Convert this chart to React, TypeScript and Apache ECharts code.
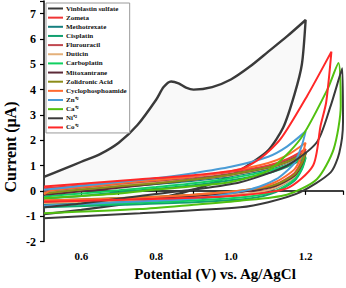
import React, { useEffect, useRef } from "react";
import * as echarts from "echarts";

const seriesNames = [
  "Vinblastin sulfate", "Zometa", "Methotrexate", "Cisplatin", "Flurouracil", "Duticin",
  "Carboplatin", "Mitoxantrane", "Zolidronic Acid", "Cyclophosphoamide", "Zn⁺²", "Ca⁺²", "Ni⁺²", "Co⁺²",
];
const seriesColors = [
  "#3a3a3a", "#f03535", "#178080", "#12a070", "#c04850", "#e4b07a",
  "#10d060", "#5c2a38", "#8c8c18", "#ff6a30", "#4a9cd6", "#52c010", "#3a3a3a", "#ff2828",
];

const vinblastin = [
  [0.5, 0.55], [0.55, 0.85], [0.6, 1.15], [0.65, 1.45], [0.7, 1.9], [0.75, 2.6], [0.8, 3.6], [0.82, 4.1],
  [0.84, 4.32], [0.86, 4.25], [0.88, 4.08], [0.9, 4.0], [0.95, 4.1], [1.0, 4.4], [1.05, 4.9], [1.1, 5.5],
  [1.15, 6.1], [1.2, 6.75], [1.19, 5.0], [1.17, 3.8], [1.14, 2.5], [1.1, 1.6], [1.05, 1.05], [1.0, 0.6],
  [0.95, 0.3], [0.9, 0.05], [0.85, -0.15], [0.77, -0.4], [0.7, -0.55], [0.6, -0.75], [0.5, -0.92],
];
const zometa = [
  [0.5, 0.1], [0.6, 0.22], [0.7, 0.33], [0.8, 0.45], [0.9, 0.58], [1.0, 0.75], [1.1, 1.0], [1.15, 1.25], [1.2, 1.65],
  [1.19, 1.2], [1.17, 0.7], [1.12, 0.25], [1.05, 0.0], [0.9, -0.18], [0.7, -0.3], [0.5, -0.42],
];
const methotrexate = [
  [0.5, -0.05], [0.6, 0.05], [0.7, 0.15], [0.8, 0.27], [0.9, 0.4], [1.0, 0.58], [1.1, 0.85], [1.15, 1.1], [1.2, 1.5],
  [1.19, 1.0], [1.17, 0.55], [1.12, 0.1], [1.05, -0.12], [0.9, -0.3], [0.7, -0.42], [0.5, -0.52],
];
const cisplatin = [
  [0.5, -0.3], [0.6, -0.2], [0.7, -0.05], [0.8, 0.08], [0.9, 0.22], [1.0, 0.42], [1.1, 0.7], [1.15, 0.95], [1.2, 1.3],
  [1.19, 0.85], [1.17, 0.4], [1.12, -0.05], [1.05, -0.3], [0.9, -0.45], [0.7, -0.55], [0.5, -0.65],
];
const flurouracil = [
  [0.5, 0.0], [0.6, 0.12], [0.7, 0.25], [0.8, 0.37], [0.9, 0.5], [1.0, 0.68], [1.1, 0.95], [1.15, 1.2], [1.2, 1.55],
  [1.19, 1.1], [1.17, 0.6], [1.12, 0.15], [1.05, -0.1], [0.9, -0.25], [0.7, -0.37], [0.5, -0.45],
];
const duticin = [
  [0.5, -0.08], [0.6, 0.05], [0.7, 0.2], [0.8, 0.32], [0.9, 0.45], [1.0, 0.62], [1.1, 0.9], [1.15, 1.12], [1.2, 1.45],
  [1.19, 1.0], [1.17, 0.55], [1.12, 0.12], [1.05, -0.1], [0.9, -0.25], [0.7, -0.38], [0.5, -0.48],
];
const carboplatin = [
  [0.5, -0.22], [0.6, -0.1], [0.7, 0.02], [0.8, 0.15], [0.9, 0.3], [1.0, 0.5], [1.1, 0.78], [1.15, 1.0], [1.2, 1.35],
  [1.19, 0.9], [1.17, 0.45], [1.12, 0.0], [1.05, -0.22], [0.9, -0.38], [0.7, -0.5], [0.5, -0.6],
];
const mitoxantrane = [
  [0.5, -0.15], [0.6, -0.02], [0.7, 0.12], [0.8, 0.28], [0.9, 0.45], [1.0, 0.65], [1.1, 0.92], [1.15, 1.15], [1.2, 1.5],
  [1.19, 1.05], [1.17, 0.6], [1.12, 0.2], [1.05, 0.0], [0.9, -0.2], [0.7, -0.33], [0.5, -0.42],
];
const zolidronic = [
  [0.5, -0.1], [0.6, 0.05], [0.7, 0.18], [0.8, 0.3], [0.9, 0.45], [1.0, 0.65], [1.1, 0.93], [1.15, 1.15], [1.2, 1.5],
  [1.19, 1.1], [1.17, 0.65], [1.12, 0.25], [1.05, 0.05], [0.9, -0.15], [0.7, -0.28], [0.5, -0.38],
];
const cyclophosphoamide = [
  [0.5, -0.13], [0.52, 0.02], [0.6, 0.15], [0.7, 0.3], [0.8, 0.43], [0.9, 0.58], [1.0, 0.78], [1.1, 1.1], [1.15, 1.4], [1.2, 1.9],
  [1.19, 1.4], [1.17, 0.85], [1.12, 0.35], [1.05, 0.05], [0.9, -0.15], [0.7, -0.3], [0.5, -0.38],
];
const zinc = [
  [0.5, 0.04], [0.6, 0.2], [0.7, 0.35], [0.8, 0.5], [0.9, 0.7], [1.0, 0.95], [1.1, 1.35], [1.15, 1.75], [1.2, 2.35],
  [1.19, 1.8], [1.17, 1.1], [1.12, 0.45], [1.05, 0.05], [0.9, -0.3], [0.7, -0.45], [0.5, -0.59],
];
const calcium = [
  [0.5, -0.29], [0.6, -0.2], [0.7, -0.1], [0.8, 0.05], [0.9, 0.18], [1.0, 0.35], [1.1, 0.8], [1.186, 2.05], [1.258, 4.0], [1.288, 5.05],
  [1.294, 3.36], [1.275, 1.65], [1.23, 0.46], [1.15, -0.15], [1.025, -0.39], [0.9, -0.55], [0.757, -0.72], [0.5, -0.88],
];
const nickel = [
  [0.5, -0.65], [0.6, -0.5], [0.757, -0.2], [0.9, 0.05], [1.025, 0.34], [1.15, 1.0], [1.23, 1.92], [1.267, 3.36], [1.298, 4.84],
  [1.3, 2.7], [1.29, 1.5], [1.267, 0.73], [1.186, -0.05], [1.1, -0.45], [1.025, -0.65], [0.757, -0.88], [0.5, -1.08],
];
const cobalt = [
  [0.5, 0.17], [0.6, 0.28], [0.757, 0.46], [0.9, 0.62], [1.025, 0.86], [1.08, 1.3], [1.133, 2.05], [1.204, 3.75], [1.269, 5.5],
  [1.255, 3.5], [1.24, 2.57], [1.22, 1.0], [1.15, 0.1], [1.0, -0.2], [0.757, -0.33], [0.5, -0.43],
];

const allData = [
  vinblastin, zometa, methotrexate, cisplatin, flurouracil, duticin, carboplatin,
  mitoxantrane, zolidronic, cyclophosphoamide, zinc, calcium, nickel, cobalt,
];

const FONT = "'Liberation Serif', 'Times New Roman', serif";

export default function App() {
  const ref = useRef<HTMLDivElement>(null);
  useEffect(() => {
    if (!ref.current) return;
    const chart = echarts.init(ref.current, undefined, { renderer: "svg" });
    const lineSeries = allData.map((d, i) => ({
      type: "line",
      name: seriesNames[i],
      data: d,
      symbol: "none",
      smooth: 0.25,
      z: 3,
      lineStyle: { color: seriesColors[i], width: i === 0 ? 2.4 : 2 },
      itemStyle: { color: seriesColors[i] },
    }));
    chart.setOption({
      animation: false,
      grid: { left: 44, right: 0, top: 1, bottom: 46.5 },
      xAxis: {
        type: "value",
        min: 0.5,
        max: 1.3,
        interval: 0.1,
        axisLine: { lineStyle: { color: "#000", width: 1.5 } },
        axisTick: { inside: false, length: 4, lineStyle: { color: "#000", width: 1.2 } },
        splitLine: { show: false },
        axisLabel: {
          margin: 9,
          color: "#000",
          fontFamily: FONT,
          fontWeight: "bold",
          fontSize: 11,
          formatter: (v: number) => {
            const r = Math.round(v * 10);
            return r % 2 === 0 ? (r / 10).toFixed(1) : "";
          },
        },
      },
      yAxis: {
        type: "value",
        min: -2,
        max: 7.5,
        interval: 1,
        axisLine: { show: true, lineStyle: { color: "#000", width: 1.5 } },
        axisTick: { show: true, inside: false, length: 4, lineStyle: { color: "#000", width: 1.2 } },
        splitLine: { show: false },
        axisLabel: {
          margin: 8,
          color: "#000",
          fontFamily: FONT,
          fontWeight: "bold",
          fontSize: 12,
          formatter: (v: number) => (Math.abs(v - Math.round(v)) < 1e-6 ? String(Math.round(v)) : ""),
        },
      },
      legend: {
        data: seriesNames,
        orient: "vertical",
        left: 46,
        top: 3,
        icon: "rect",
        itemWidth: 15,
        itemHeight: 2,
        itemGap: 0.15,
        padding: [1, 3, 1, 2],
        borderColor: "#9a9a9a",
        borderWidth: 1,
        backgroundColor: "#fff",
        textStyle: {
          fontFamily: FONT, fontWeight: "bold", fontSize: 7, lineHeight: 9, color: "#111", padding: [0, 0, 0, -2],
        },
      },
      graphic: [
        {
          type: "text",
          x: 10,
          y: 147,
          rotation: Math.PI / 2,
          style: {
            text: "Current (μA)",
            font: `bold 16px ${FONT}`,
            fill: "#000",
            textAlign: "center",
            textVerticalAlign: "middle",
          },
        },
        {
          type: "text",
          x: 215,
          y: 274,
          style: {
            text: "Potential (V) vs. Ag/AgCl",
            font: `bold 15px ${FONT}`,
            fill: "#000",
            textAlign: "center",
            textVerticalAlign: "middle",
          },
        },
      ],
      series: [
        {
          type: "custom",
          name: "fill",
          data: [0],
          silent: true,
          z: 1,
          renderItem: (_params: any, api: any) => ({
            type: "polygon",
            shape: { points: vinblastin.map((p) => api.coord(p)), smooth: 0.25 },
            style: { fill: "rgba(0,0,0,0.025)", stroke: "none" },
          }),
        },
        ...lineSeries,
      ],
    });
    return () => chart.dispose();
  }, []);
  return <div ref={ref} style={{ position: "absolute", left: 0, top: 0, width: 346, height: 288 }} />;
}
